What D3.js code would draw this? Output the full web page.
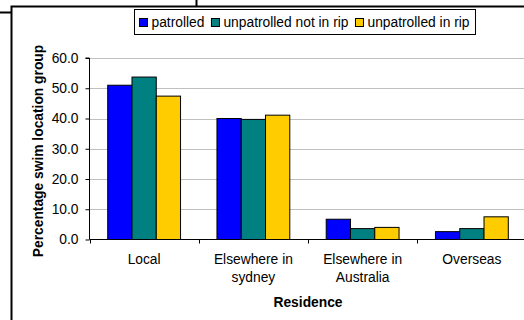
<!DOCTYPE html>
<html>
<head>
<meta charset="utf-8">
<script src="https://cdn.jsdelivr.net/npm/d3@7"></script>
<style>
  body { margin: 0; background: #fff; }
  svg { display: block; font-family: "Liberation Sans", Arial, sans-serif; }
</style>
</head>
<body>
<svg id="chart" width="524" height="320"></svg>
<script>
// data
let categories = [["Local"], ["Elsewhere in", "sydney"], ["Elsewhere in", "Australia"], ["Overseas"]];
let seriesNames = ["patrolled", "unpatrolled not in rip", "unpatrolled in rip"];
let patrolled = [51.0, 40.0, 6.7, 2.6];
let unpatrolledNotInRip = [53.7, 39.7, 3.6, 3.6];
let unpatrolledInRip = [47.4, 41.1, 4.0, 7.5];
let yTicks = [0, 10, 20, 30, 40, 50, 60];
let colors = ["#0000ff", "#008080", "#ffcc00"];

let series = [patrolled, unpatrolledNotInRip, unpatrolledInRip];

let fs = 13.8;
let svg = d3.select("#chart");
let margin = {top: 58, left: 89.5, right: 526.5, bottom: 239.5};

// frame bits from the page the chart was cut out of
svg.append("path")
    .attr("d", "M0,12.5H11.5 M11.5,320V6.5H524 M196.5,0V6.5")
    .attr("fill", "none")
    .attr("stroke", "#000")
    .attr("stroke-width", 2);

let x = d3.scaleBand()
    .domain(d3.range(categories.length))
    .range([margin.left, margin.right]);

let y = d3.scaleLinear()
    .domain([0, 60])
    .range([margin.bottom, margin.top]);

// gridlines
svg.append("g")
    .selectAll("line")
    .data(yTicks.filter(d => d > 0))
    .enter()
    .append("line")
    .attr("x1", margin.left)
    .attr("x2", margin.right)
    .attr("y1", d => Math.round(y(d)) + 0.5)
    .attr("y2", d => Math.round(y(d)) + 0.5)
    .attr("stroke", "#808080")
    .attr("stroke-dasharray", "1,1");

// bars, gap width 150% like excel
let bw = x.bandwidth() / 4.5;
series.forEach(function (vals, s) {
    svg.append("g")
        .selectAll("rect")
        .data(vals)
        .enter()
        .append("rect")
        .attr("x", (d, i) => x(i) + 0.75 * bw + s * bw)
        .attr("y", d => y(d))
        .attr("width", bw)
        .attr("height", d => y(0) - y(d))
        .attr("fill", colors[s])
        .attr("stroke", "#000")
        .attr("stroke-width", 1);
});

// y axis
let yAxis = svg.append("g")
    .attr("transform", `translate(${margin.left},0)`)
    .call(d3.axisLeft(y).tickValues(yTicks).tickFormat(d3.format(".1f")).tickSize(4).tickPadding(7));
yAxis.select(".domain").attr("d", `M-4,${margin.top}H0V${margin.bottom}`);
yAxis.selectAll("text").attr("font-size", fs).attr("fill", "#000");
yAxis.attr("font-family", null).attr("font-size", null);

// x axis
let xAxis = svg.append("g")
    .attr("transform", `translate(0,${margin.bottom})`);
xAxis.append("line")
    .attr("x1", margin.left).attr("x2", margin.right)
    .attr("stroke", "#000");
xAxis.selectAll(".tk")
    .data(d3.range(categories.length + 1))
    .enter()
    .append("line")
    .attr("class", "tk")
    .attr("x1", i => Math.round(margin.left + i * x.step()) + 0.5)
    .attr("x2", i => Math.round(margin.left + i * x.step()) + 0.5)
    .attr("y1", 0).attr("y2", 4)
    .attr("stroke", "#000");

let lbl = xAxis.selectAll(".lbl")
    .data(categories)
    .enter()
    .append("text")
    .attr("class", "lbl")
    .attr("text-anchor", "middle")
    .attr("font-size", fs)
    .attr("x", (d, i) => x(i) + x.bandwidth() / 2)
    .attr("y", 24);
lbl.selectAll("tspan")
    .data(d => d)
    .enter()
    .append("tspan")
    .attr("x", function () { return this.parentNode.getAttribute("x"); })
    .attr("dy", (d, i) => i === 0 ? 0 : 18.5)
    .text(d => d);

// axis titles
svg.append("text")
    .attr("x", (margin.left + margin.right) / 2)
    .attr("y", 307)
    .attr("text-anchor", "middle")
    .attr("font-size", fs)
    .attr("font-weight", "bold")
    .text("Residence");

svg.append("text")
    .attr("transform", `translate(43,151) rotate(-90)`)
    .attr("text-anchor", "middle")
    .attr("font-size", fs)
    .attr("font-weight", "bold")
    .text("Percentage swim location group");

// legend
let legend = svg.append("g");
let legendBox = legend.append("rect")
    .attr("x", 134.5).attr("y", 9.5)
    .attr("height", 25)
    .attr("fill", "#fff")
    .attr("stroke", "#000");
let lx = 139.5;
seriesNames.forEach(function (name, s) {
    legend.append("rect")
        .attr("x", lx).attr("y", 18.5)
        .attr("width", 8).attr("height", 8)
        .attr("fill", colors[s])
        .attr("stroke", "#000");
    let t = legend.append("text")
        .attr("x", lx + 12)
        .attr("y", 26.5)
        .attr("font-size", fs)
        .text(name);
    lx = lx + 12 + t.node().getComputedTextLength() + 7;
});
legendBox.attr("width", lx - 7 + 6 - 134.5);
</script>
</body>
</html>
